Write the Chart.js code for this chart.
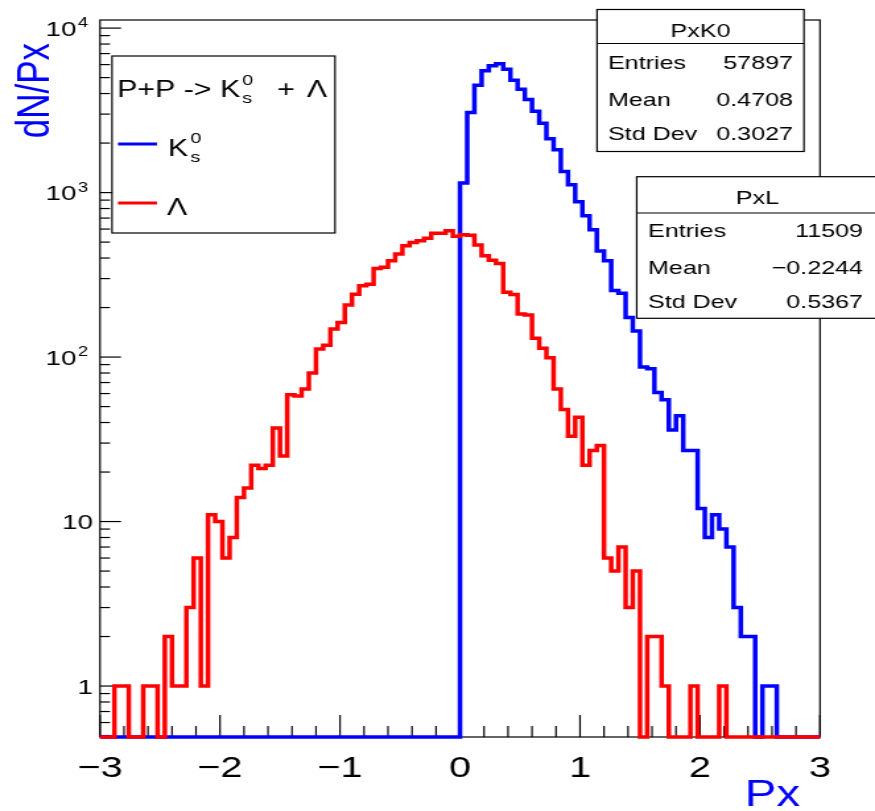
<!DOCTYPE html>
<html>
<head>
<meta charset="utf-8">
<script src="https://cdn.jsdelivr.net/npm/chart.js@4.4.1/dist/chart.umd.min.js"></script>
<style>
  html, body { margin: 0; padding: 0; background: #fff; }
  #c { display: block; }
</style>
</head>
<body>
<!-- the ROOT picture is stretched sideways, so the canvas is drawn narrow and widened by css -->
<canvas id="c" width="663" height="811" style="width:875px;height:811px"></canvas>
<script>
// histogram binning: 100 bins from -3 to 3
const pxMin = -3, pxMax = 3, nBins = 100;

// K0s counts per bin
const countsK0 = [
  0, 0, 0, 0, 0, 0, 0, 0, 0, 0,
  0, 0, 0, 0, 0, 0, 0, 0, 0, 0,
  0, 0, 0, 0, 0, 0, 0, 0, 0, 0,
  0, 0, 0, 0, 0, 0, 0, 0, 0, 0,
  0, 0, 0, 0, 0, 0, 0, 0, 0, 0,
  1145, 3063, 4490, 5500, 5900, 6070, 5620, 4820, 4250, 3675,
  3120, 2636, 2125, 1821, 1343, 1114, 881, 724, 594, 442,
  385, 254, 244, 174, 144, 87, 85, 61, 55, 36,
  44, 27, 27, 12, 8, 11, 9, 7, 3, 2,
  2, 0, 1, 1, 0, 0, 0, 0, 0, 0
];

// Lambda counts per bin
const countsL = [
  0, 0, 1, 1, 0, 0, 1, 1, 0, 2,
  1, 1, 3, 6, 1, 11, 10, 6, 8, 14,
  16, 22, 21, 22, 37, 25, 59, 58, 64, 80,
  112, 118, 148, 162, 207, 241, 271, 277, 346, 351,
  385, 423, 475, 498, 510, 527, 565, 565, 587, 542,
  555, 550, 480, 413, 388, 370, 248, 240, 183, 180,
  130, 113, 99, 64, 48, 33, 43, 22, 27, 29,
  6, 5, 7, 3, 5, 0, 2, 2, 1, 0,
  0, 0, 1, 0, 0, 0, 1, 0, 0, 0,
  0, 0, 0, 0, 0, 0, 0, 0, 0, 0
];

const yMin = 0.49, yMax = 11200;
const yPowers = [0, 1, 2, 3, 4];

const statLabels = ['Entries', 'Mean', 'Std Dev'];
const statK0 = ['57897', '0.4708', '0.3027'];
const statL = ['11509', '\u22120.2244', '0.5367'];

const S = 875 / 663;            // horizontal stretch
const FONT = "'Liberation Sans', Arial, Helvetica, sans-serif";
const cx = v => v / S;          // css x -> canvas x

function steps(counts) {
  const w = (pxMax - pxMin) / nBins;
  const pts = counts.map((c, i) => ({ x: pxMin + i * w, y: c > 0 ? c : yMin }));
  const last = counts[counts.length - 1];
  pts.push({ x: pxMax, y: last > 0 ? last : yMin });
  return pts;
}

function txt(ctx, s, x, y, size, align, color) {
  ctx.font = size + 'px ' + FONT;
  ctx.fillStyle = color || '#000';
  ctx.textAlign = align || 'left';
  ctx.textBaseline = 'alphabetic';
  ctx.fillText(s, x, y);
  return ctx.measureText(s).width;
}

function line(ctx, x1, y1, x2, y2) {
  ctx.beginPath();
  ctx.moveTo(x1, y1);
  ctx.lineTo(x2, y2);
  ctx.stroke();
}

function statBox(ctx, l, r, t, b, sep, title, vals, base, labX, valX) {
  ctx.fillStyle = '#fff';
  ctx.fillRect(cx(l), t, cx(r) - cx(l), b - t);
  ctx.strokeStyle = '#000';
  ctx.lineWidth = 1.2;
  ctx.strokeRect(cx(l), t, cx(r) - cx(l), b - t);
  line(ctx, cx(l), sep, cx(r), sep);
  txt(ctx, title, cx((l + r) / 2), t + 27, 19, 'center');
  statLabels.forEach((s, i) => {
    txt(ctx, s, cx(labX), base[i], 19, 'left');
    txt(ctx, vals[i], cx(valX), base[i], 19, 'right');
  });
}

const rootDecor = {
  id: 'rootDecor',
  beforeDatasetsDraw(chart) {
    const ctx = chart.ctx, a = chart.chartArea;
    const xs = chart.scales.x, ys = chart.scales.y;
    ctx.save();
    ctx.strokeStyle = '#000';
    ctx.lineWidth = 1.2;
    ctx.strokeRect(a.left, a.top, a.right - a.left, a.bottom - a.top);
    // x ticks, pointing inwards
    for (let k = -15; k <= 15; k++) {
      const px = xs.getPixelForValue(k / 5);
      const len = k % 5 === 0 ? 22 : 11;
      line(ctx, px, a.bottom, px, a.bottom - len);
    }
    // y ticks, log
    for (let e = -1; e <= 4; e++) {
      for (let m = 1; m <= 9; m++) {
        const v = m * Math.pow(10, e);
        if (v < yMin || v > yMax) continue;
        const py = ys.getPixelForValue(v);
        const len = m === 1 ? cx(21) : cx(10);
        line(ctx, a.left, py, a.left + len, py);
      }
    }
    // y labels
    yPowers.forEach(p => {
      const py = ys.getPixelForValue(Math.pow(10, p));
      if (p < 2) {
        txt(ctx, p === 0 ? '1' : '10', cx(93), py + 7.5, 21, 'right');
      } else {
        const w = txt(ctx, String(p), cx(88), py - 1, 14, 'right');
        txt(ctx, '10', cx(88) - w - 1, py + 7.5, 21, 'right');
      }
    });
    ctx.restore();
  },
  afterDraw(chart) {
    const ctx = chart.ctx;
    ctx.save();
    // axis titles
    ctx.save();
    ctx.translate(cx(49), 43);
    ctx.rotate(-Math.PI / 2);
    txt(ctx, 'dN/Px', 0, 0, 35, 'right', '#0000ff');
    ctx.restore();
    txt(ctx, 'Px', cx(800), 806, 36, 'right', '#0000ff');

    // legend
    ctx.fillStyle = '#fff';
    ctx.fillRect(cx(112), 56, cx(335) - cx(112), 177);
    ctx.strokeStyle = '#000';
    ctx.lineWidth = 1.2;
    ctx.strokeRect(cx(112), 56, cx(335) - cx(112), 177);
    let w = txt(ctx, 'P+P -> K', cx(117), 97, 23);
    txt(ctx, '0', cx(117) + w + 1.5, 85, 15);
    txt(ctx, 's', cx(117) + w + 1.5, 103, 15);
    txt(ctx, '+', cx(277), 97, 23);
    txt(ctx, '\u039B', cx(307), 97, 23);

    ctx.lineWidth = 3;
    ctx.strokeStyle = '#0000ff';
    line(ctx, cx(118), 144, cx(157), 144);
    ctx.strokeStyle = '#ff0000';
    line(ctx, cx(118), 203, cx(157), 203);
    w = txt(ctx, 'K', cx(168), 156, 23);
    txt(ctx, '0', cx(168) + w + 1.5, 143, 15);
    txt(ctx, 's', cx(168) + w + 1.5, 162, 15);
    txt(ctx, '\u039B', cx(167), 215, 23);

    // stat boxes
    statBox(ctx, 597, 804, 9.5, 151.5, 43.5, 'PxK0', statK0, [69, 106, 140], 608, 793);
    statBox(ctx, 636.7, 878, 176.7, 318.3, 213, 'PxL', statL, [237, 274, 308], 648, 863);
    ctx.restore();
  }
};

const ctx = document.getElementById('c').getContext('2d');
const chart = new Chart(ctx, {
  type: 'line',
  data: {
    datasets: [{
      label: 'Lambda',
      data: steps(countsL),
      borderColor: '#ff0000',
      borderWidth: 3.5,
      stepped: 'before',
      pointRadius: 0,
      fill: false,
      clip: false
    }, {
      label: 'K0s',
      data: steps(countsK0),
      borderColor: '#0000ff',
      borderWidth: 3.5,
      stepped: 'before',
      pointRadius: 0,
      fill: false,
      clip: false
    }]
  },
  options: {
    responsive: false,
    animation: false,
    devicePixelRatio: 1,
    layout: { padding: { top: 20, right: 663 - cx(820), left: 0, bottom: 0 } },
    plugins: { legend: { display: false }, tooltip: { enabled: false } },
    scales: {
      x: {
        type: 'linear',
        min: pxMin,
        max: pxMax,
        afterFit(s) { s.height = 74; },
        grid: { display: false, drawTicks: false },
        border: { display: false },
        ticks: {
          stepSize: 1,
          autoSkip: false,
          maxRotation: 0,
          padding: 14,
          color: '#000',
          font: { family: FONT, size: 30 },
          callback: v => v < 0 ? '\u2212' + Math.abs(v) : String(v)
        }
      },
      y: {
        type: 'logarithmic',
        min: yMin,
        max: yMax,
        afterFit(s) { s.width = cx(100); },
        grid: { display: false, drawTicks: false },
        border: { display: false },
        ticks: { display: false }
      }
    }
  },
  plugins: [rootDecor]
});
</script>
</body>
</html>
